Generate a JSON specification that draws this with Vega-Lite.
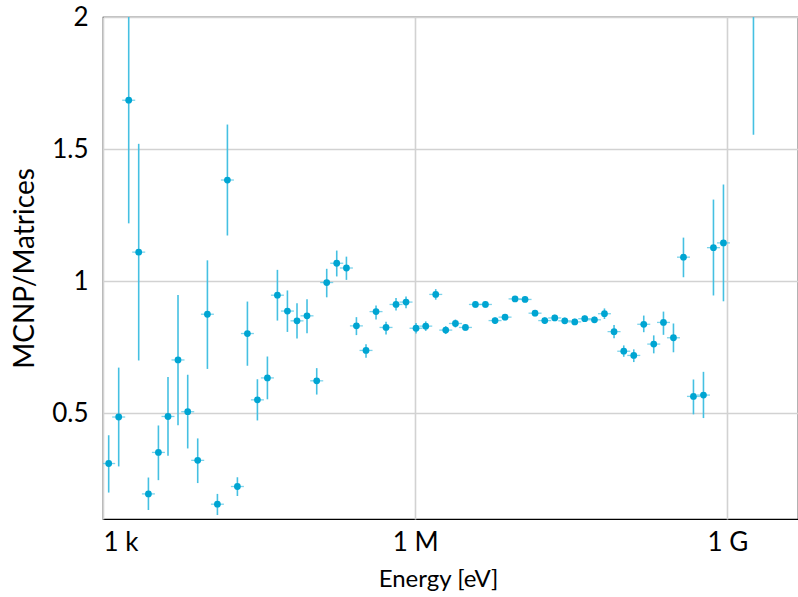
{
  "$schema": "https://vega.github.io/schema/vega-lite/v6.json",
  "width": 695,
  "height": 502,
  "autosize": {"type": "none"},
  "padding": {"left": 103, "top": 17, "right": 0, "bottom": 78},
  "background": "white",
  "config": {
    "view": {"stroke": "black", "strokeWidth": 1.2},
    "font": "Lato",
    "axis": {"labelFont": "Lato", "titleFont": "Lato", "labelColor": "black", "titleColor": "black", "titleFontWeight": "normal"}
  },
  "data": {"values": [
    {"E": 1134, "r": 0.31, "lo": 0.2, "hi": 0.417},
    {"E": 1415, "r": 0.486, "lo": 0.299, "hi": 0.673},
    {"E": 1766, "r": 1.685, "lo": 1.219, "hi": 2.15},
    {"E": 2203, "r": 1.11, "lo": 0.7, "hi": 1.52},
    {"E": 2731, "r": 0.195, "lo": 0.134, "hi": 0.257},
    {"E": 3407, "r": 0.352, "lo": 0.247, "hi": 0.454},
    {"E": 4212, "r": 0.488, "lo": 0.339, "hi": 0.637},
    {"E": 5256, "r": 0.702, "lo": 0.455, "hi": 0.948},
    {"E": 6515, "r": 0.506, "lo": 0.367, "hi": 0.646},
    {"E": 8128, "r": 0.322, "lo": 0.236, "hi": 0.405},
    {"E": 10074, "r": 0.875, "lo": 0.668, "hi": 1.079},
    {"E": 12570, "r": 0.156, "lo": 0.115, "hi": 0.195},
    {"E": 15680, "r": 1.383, "lo": 1.173, "hi": 1.593},
    {"E": 19560, "r": 0.223, "lo": 0.187, "hi": 0.258},
    {"E": 24410, "r": 0.802, "lo": 0.68, "hi": 0.923},
    {"E": 30450, "r": 0.551, "lo": 0.473, "hi": 0.629},
    {"E": 37990, "r": 0.634, "lo": 0.553, "hi": 0.715},
    {"E": 47400, "r": 0.947, "lo": 0.851, "hi": 1.043},
    {"E": 59140, "r": 0.887, "lo": 0.808, "hi": 0.965},
    {"E": 73120, "r": 0.85, "lo": 0.783, "hi": 0.917},
    {"E": 91250, "r": 0.869, "lo": 0.803, "hi": 0.932},
    {"E": 113100, "r": 0.623, "lo": 0.571, "hi": 0.671},
    {"E": 141100, "r": 0.995, "lo": 0.939, "hi": 1.047},
    {"E": 176100, "r": 1.068, "lo": 1.018, "hi": 1.116},
    {"E": 218200, "r": 1.05, "lo": 1.005, "hi": 1.093},
    {"E": 272200, "r": 0.831, "lo": 0.796, "hi": 0.864},
    {"E": 336600, "r": 0.738, "lo": 0.71, "hi": 0.761},
    {"E": 420100, "r": 0.885, "lo": 0.855, "hi": 0.908},
    {"E": 524100, "r": 0.825, "lo": 0.798, "hi": 0.847},
    {"E": 653800, "r": 0.912, "lo": 0.889, "hi": 0.936},
    {"E": 815700, "r": 0.921, "lo": 0.898, "hi": 0.942},
    {"E": 1017600, "r": 0.822, "lo": 0.802, "hi": 0.842},
    {"E": 1261600, "r": 0.83, "lo": 0.812, "hi": 0.848},
    {"E": 1573800, "r": 0.95, "lo": 0.93, "hi": 0.97},
    {"E": 1963400, "r": 0.815, "lo": 0.8, "hi": 0.83},
    {"E": 2433400, "r": 0.84, "lo": 0.825, "hi": 0.855},
    {"E": 3036000, "r": 0.825, "lo": 0.813, "hi": 0.837},
    {"E": 3787000, "r": 0.912, "lo": 0.9, "hi": 0.924},
    {"E": 4725000, "r": 0.912, "lo": 0.9, "hi": 0.924},
    {"E": 5845000, "r": 0.851, "lo": 0.839, "hi": 0.863},
    {"E": 7292000, "r": 0.864, "lo": 0.852, "hi": 0.876},
    {"E": 9098000, "r": 0.933, "lo": 0.922, "hi": 0.944},
    {"E": 11350000, "r": 0.931, "lo": 0.92, "hi": 0.942},
    {"E": 14160000, "r": 0.879, "lo": 0.867, "hi": 0.891},
    {"E": 17550000, "r": 0.851, "lo": 0.839, "hi": 0.863},
    {"E": 21900000, "r": 0.861, "lo": 0.849, "hi": 0.873},
    {"E": 27320000, "r": 0.85, "lo": 0.838, "hi": 0.862},
    {"E": 34080000, "r": 0.846, "lo": 0.834, "hi": 0.858},
    {"E": 42520000, "r": 0.858, "lo": 0.846, "hi": 0.87},
    {"E": 52710000, "r": 0.854, "lo": 0.842, "hi": 0.866},
    {"E": 65770000, "r": 0.877, "lo": 0.857, "hi": 0.897},
    {"E": 81320000, "r": 0.809, "lo": 0.784, "hi": 0.834},
    {"E": 100800000, "r": 0.735, "lo": 0.714, "hi": 0.757},
    {"E": 125800000, "r": 0.719, "lo": 0.694, "hi": 0.742},
    {"E": 156900000, "r": 0.837, "lo": 0.807, "hi": 0.87},
    {"E": 195700000, "r": 0.762, "lo": 0.727, "hi": 0.795},
    {"E": 242700000, "r": 0.844, "lo": 0.797, "hi": 0.885},
    {"E": 302700000, "r": 0.786, "lo": 0.731, "hi": 0.84},
    {"E": 377700000, "r": 1.091, "lo": 1.015, "hi": 1.165},
    {"E": 471200000, "r": 0.564, "lo": 0.496, "hi": 0.628},
    {"E": 587900000, "r": 0.569, "lo": 0.482, "hi": 0.657},
    {"E": 733400000, "r": 1.127, "lo": 0.946, "hi": 1.309},
    {"E": 915000000, "r": 1.145, "lo": 0.924, "hi": 1.366},
    {"E": 1777000000, "r": 2.3, "lo": 1.554, "hi": 3.05}
  ]},
  "encoding": {
    "x": {
      "field": "E", "type": "quantitative",
      "scale": {"type": "log", "domain": [1000, 4760000000], "nice": false},
      "axis": {
        "values": [1000, 1000000, 1000000000],
        "labelExpr": "datum.value < 5000 ? '1 k' : datum.value < 5000000 ? '1 M' : '1 G'",
        "title": "Energy [eV]",
        "labelFontSize": 26, "titleFontSize": 24,
        "labelPadding": 10, "titlePadding": 12,
        "titleX": 335, "titleAlign": "center", "titleAnchor": "start",
        "ticks": false, "domain": false,
        "grid": true, "gridColor": "#d2d2d2", "gridWidth": 1.6
      }
    },
    "y": {
      "type": "quantitative",
      "scale": {"domain": [0.1, 2], "nice": false, "zero": false},
      "axis": {
        "values": [0.5, 1, 1.5, 2],
        "labelExpr": "datum.value == 1 ? '1' : datum.value == 2 ? '2' : format(datum.value, '.1f')",
        "title": "MCNP/Matrices",
        "labelFontSize": 26, "titleFontSize": 28,
        "labelPadding": 15, "titlePadding": 12,
        "ticks": false, "domain": false,
        "grid": true, "gridColor": "#d2d2d2", "gridWidth": 1.6
      }
    }
  },
  "layer": [
    {
      "mark": {"type": "rule", "color": "#45c0e2", "strokeWidth": 1.6, "clip": true},
      "encoding": {"y": {"field": "lo", "type": "quantitative"}, "y2": {"field": "hi"}}
    },
    {
      "mark": {"type": "tick", "orient": "horizontal", "color": "#45c0e2", "size": 13, "thickness": 1.3, "clip": true},
      "encoding": {"y": {"field": "r", "type": "quantitative"}}
    },
    {
      "mark": {"type": "point", "shape": "circle", "filled": true, "opacity": 1, "color": "#00a5d2", "size": 46, "clip": true},
      "encoding": {"y": {"field": "r", "type": "quantitative"}}
    }
  ]
}
